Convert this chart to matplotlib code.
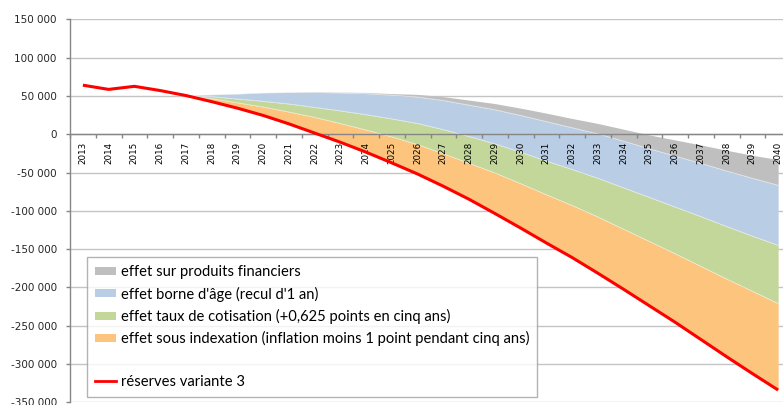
import numpy as np
import matplotlib
matplotlib.use("Agg")
import matplotlib.pyplot as plt
from matplotlib.patches import Patch
from matplotlib.lines import Line2D

# ---------------- data ----------------
years = list(range(2013, 2041))

reserves_variante_3 = [64000, 58500, 62500, 57000, 50500, 42500, 34000, 24500,
                       13500, 1500, -10500, -23500, -37500, -52000, -68000,
                       -85000, -103500, -122500, -142000, -161000, -181500,
                       -202500, -224000, -245500, -268000, -290500, -312500,
                       -334000]

effet_sous_indexation = [0, 0, 0, 0, 0, 4000, 7000, 11000, 15500, 20500, 24500,
                         29000, 34000, 38500, 42500, 47000, 53000, 58000, 63000,
                         68000, 73500, 78500, 84000, 89500, 95500, 101500,
                         107500, 113000]

effet_taux_cotisation = [0, 0, 0, 0, 0, 2500, 5000, 7500, 10500, 13000, 16500,
                         20000, 23500, 27500, 31500, 35000, 38000, 41000, 44000,
                         47000, 50500, 54000, 57500, 61000, 65000, 68500, 72000,
                         76000]

effet_borne_age = [0, 0, 0, 0, 0, 2500, 6500, 11000, 15000, 19500, 23500, 27500,
                   31000, 34500, 38000, 41000, 44500, 48000, 51500, 54500,
                   58000, 61000, 63500, 66500, 69500, 72500, 75500, 78400]

effet_produits_financiers = [0, 0, 0, 0, 500, 500, 500, 500, 500, 1000, 1000,
                             1500, 2000, 3500, 5000, 6500, 8000, 9500, 11000,
                             12000, 13500, 15500, 18000, 21000, 24000, 27000,
                             30000, 33500]

labels = ["effet sur produits financiers",
          "effet borne d'âge (recul d'1 an)",
          "effet taux de cotisation (+0,625 points en cinq ans)",
          "effet sous indexation (inflation moins 1 point pendant cinq ans)",
          "réserves variante 3"]

y_ticks = list(range(-350000, 150001, 50000))

# ---------------- style ----------------
c_gray = "#BFBFBF"
c_blue = "#B9CDE5"
c_green = "#C4D79B"
c_orange = "#FCC47D"
c_red = "#FF0000"
grid_c = "#C4C4C4"
axis_c = "#868686"

fig = plt.figure(figsize=(7.83, 4.05), dpi=100)
W, H = 783, 405
left, right, top, bottom = 70, 791, 19.3, 402.3
ax = fig.add_axes([left / W, 1 - bottom / H, (right - left) / W, (bottom - top) / H])

x = np.arange(len(years))
r = np.array(reserves_variante_3, dtype=float)
l1 = r + np.array(effet_sous_indexation)
l2 = l1 + np.array(effet_taux_cotisation)
l3 = l2 + np.array(effet_borne_age)
l4 = l3 + np.array(effet_produits_financiers)

ax.fill_between(x, l3, l4, color=c_gray, lw=0, zorder=1)
ax.fill_between(x, l2, l3, color=c_blue, lw=0, zorder=1)
ax.fill_between(x, l1, l2, color=c_green, lw=0, zorder=1)
ax.fill_between(x, r, l1, color=c_orange, lw=0, zorder=1)
for b in (l1, l2, l3):
    ax.plot(x, b, color="white", lw=0.5, alpha=0.6, zorder=1.2)
ax.plot(x, r, color=c_red, lw=2.2, zorder=3, solid_capstyle="butt")

ax.set_xlim(-0.5, len(years) - 0.5)
ax.set_ylim(-350000, 150000)

for v in y_ticks:
    ax.axhline(v, color=grid_c, lw=1.0, zorder=0.5)

ax.set_axisbelow(False)
for s in ("top", "right"):
    ax.spines[s].set_visible(False)
ax.spines["left"].set_color(axis_c)
ax.spines["bottom"].set_color(axis_c)
ax.spines["bottom"].set_position(("data", 0))
ax.spines["left"].set_linewidth(1.0)
ax.spines["bottom"].set_linewidth(1.0)

ax.set_yticks(y_ticks)
ax.set_yticklabels([f"{v:,}".replace(",", " ") for v in y_ticks],
                   fontsize=7.5, family="DejaVu Sans", color="#262626")
ax.tick_params(axis="y", length=3, width=1, color=axis_c, pad=6.5)

ax.set_xticks(x)
ax.set_xticklabels([str(y) for y in years], rotation=90, fontsize=6.3,
                   family="DejaVu Sans", color="#000000")
ax.set_xticks(np.arange(-0.5, len(years), 1.0), minor=True)
ax.tick_params(axis="x", which="major", length=0, pad=5.5)
ax.tick_params(axis="x", which="minor", length=3, width=1, color=axis_c)

handles = [Patch(facecolor=c_gray, edgecolor="none"),
           Patch(facecolor=c_blue, edgecolor="none"),
           Patch(facecolor=c_green, edgecolor="none"),
           Patch(facecolor=c_orange, edgecolor="none"),
           Patch(facecolor="none", edgecolor="none"),
           Line2D([], [], color=c_red, lw=2)]
leg_labels = labels[:4] + [""] + labels[4:]
leg = fig.legend(handles, leg_labels, loc="upper left",
                 bbox_to_anchor=(87 / W, 1 - 257 / H),
                 prop={"family": "Lato", "size": 10.6},
                 frameon=True, fancybox=False, shadow=False,
                 handlelength=1.45, handleheight=0.48, handletextpad=0.3,
                 labelspacing=0.5, borderpad=0.55, borderaxespad=0)
fr = leg.get_frame()
fr.set_edgecolor("#A0A0A0")
fr.set_linewidth(1.0)
fr.set_facecolor("white")

fig.savefig("out.png", dpi=100)
